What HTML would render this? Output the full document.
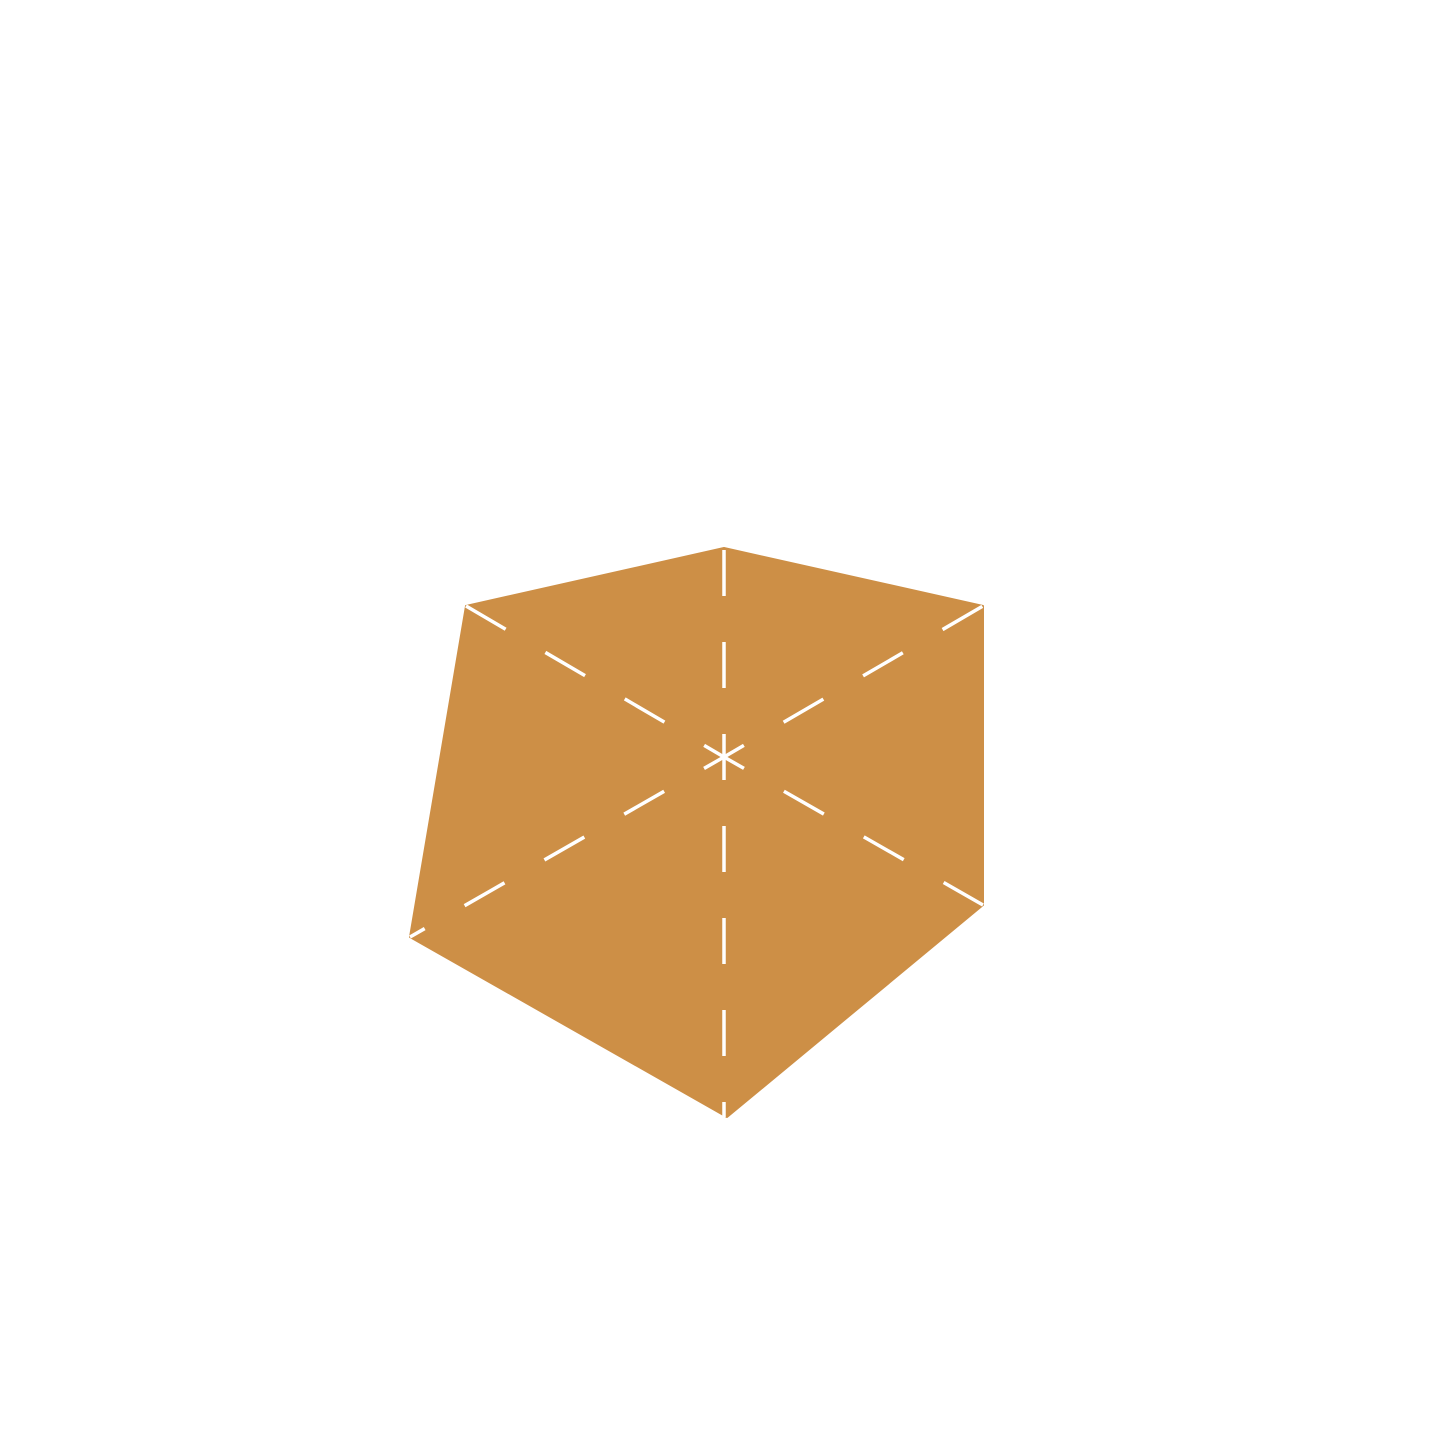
<!DOCTYPE html>
<html><head><meta charset="utf-8"><style>html,body{margin:0;padding:0;background:#fff}svg{display:block}</style></head>
<body>
<svg width="1445" height="1445" viewBox="0 0 1445 1445" xmlns="http://www.w3.org/2000/svg">
<polygon points="724,548 983,606 983,905 727,1117 410,937 466,606" fill="#CD8F46" stroke="#CD8F46" stroke-width="2" stroke-linejoin="round"/>
<g stroke="#fff" stroke-width="3.5" stroke-dasharray="46 46" stroke-dashoffset="23" fill="none">
<line x1="724" y1="757" x2="724" y2="548"/>
<line x1="724" y1="757" x2="983" y2="606"/>
<line x1="724" y1="757" x2="983" y2="905"/>
<line x1="724" y1="757" x2="724" y2="1117"/>
<line x1="724" y1="757" x2="410" y2="937"/>
<line x1="724" y1="757" x2="466" y2="606"/>
</g>
</svg>
</body></html>
